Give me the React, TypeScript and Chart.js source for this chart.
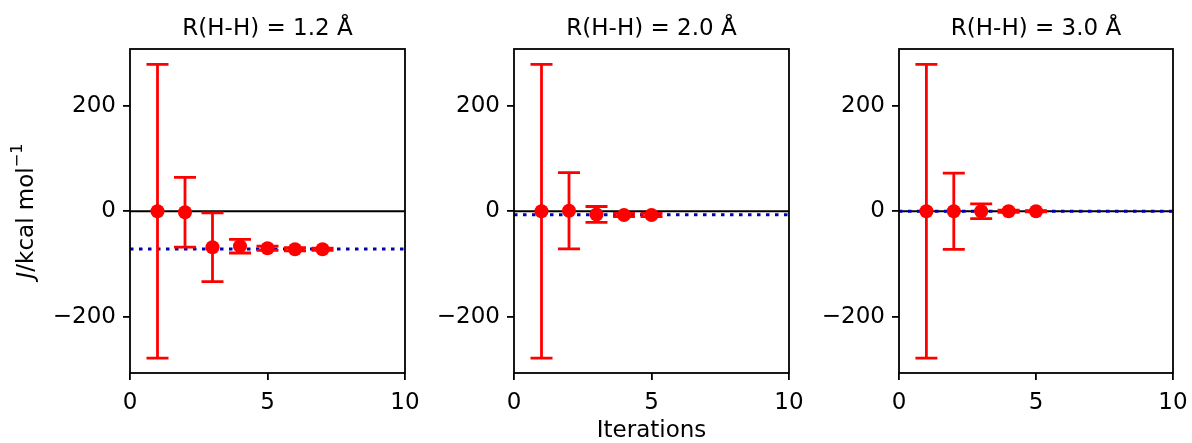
import React, { useEffect, useRef } from 'react';
import { Chart, registerables } from 'chart.js';
Chart.register(...registerables);

// ---- data ----
const panelTitles = ['R(H-H) = 1.2 Å', 'R(H-H) = 2.0 Å', 'R(H-H) = 3.0 Å'];
const iter12 = [1, 2, 3, 4, 5, 6, 7];
const J12 = [0, -2, -68, -66, -70, -72, -72];
const err12 = [278, 66, 65, 13, 4, 3, 2];
const iter20 = [1, 2, 3, 4, 5];
const J20 = [0, 1, -6, -7, -7];
const err20 = [278, 72, 15, 3, 3];
const iter30 = [1, 2, 3, 4, 5];
const J30 = [0, 0, 0, 0, 0];
const err30 = [278, 72, 14, 2, 1];
const refValues = [-71.5, -6.5, 0];
const xTickValues = [0, 5, 10];
const yTickValues = [-200, 0, 200];
const xRange = [0, 10];
const yRange = [-306, 307];

const FONT = 'DejaVu Sans';
const TICK_SIZE = 23;
const TITLE_SIZE = 23;
const LABEL_SIZE = 23;

const panels = [
  { title: panelTitles[0], xs: iter12, ys: J12, errs: err12, ref: refValues[0], left: 0, width: 420, axisW: 130, padR: 15, yLabel: true, xLabel: false },
  { title: panelTitles[1], xs: iter20, ys: J20, errs: err20, ref: refValues[1], left: 420, width: 384, axisW: 94, padR: 15, yLabel: false, xLabel: true },
  { title: panelTitles[2], xs: iter30, ys: J30, errs: err30, ref: refValues[2], left: 804, width: 388, axisW: 95, padR: 19, yLabel: false, xLabel: false },
];

const fmt = (v: number) => (v < 0 ? '\u2212' + Math.abs(v) : String(v));

function Panel(p: any) {
  const ref = useRef<HTMLCanvasElement | null>(null);
  useEffect(() => {
    const canvas = ref.current!;
    const errorBars = {
      id: 'errorBars',
      beforeDatasetDraw(chart: any, args: any) {
        const ds = chart.data.datasets[args.index];
        if (!ds.errs) return;
        const ctx = chart.ctx;
        const xs = chart.scales.x;
        const ys = chart.scales.y;
        ctx.save();
        ctx.strokeStyle = '#ff0000';
        ctx.lineWidth = 2.8;
        ds.data.forEach((pt: any, i: number) => {
          const e = ds.errs[i];
          const x = xs.getPixelForValue(pt.x);
          const y1 = ys.getPixelForValue(pt.y + e);
          const y2 = ys.getPixelForValue(pt.y - e);
          ctx.beginPath();
          ctx.moveTo(x, y1);
          ctx.lineTo(x, y2);
          ctx.moveTo(x - 11, y1);
          ctx.lineTo(x + 11, y1);
          ctx.moveTo(x - 11, y2);
          ctx.lineTo(x + 11, y2);
          ctx.stroke();
        });
        ctx.restore();
      },
    };
    const decor = {
      id: 'decor',
      afterDraw(chart: any) {
        const ctx = chart.ctx;
        const a = chart.chartArea;
        ctx.save();
        ctx.strokeStyle = '#000';
        ctx.lineWidth = 1.8;
        ctx.strokeRect(a.left, a.top, a.right - a.left, a.bottom - a.top);
        ctx.fillStyle = '#000';
        ctx.textAlign = 'center';
        ctx.textBaseline = 'middle';
        ctx.font = `${TITLE_SIZE}px "${FONT}"`;
        ctx.fillText(p.title, (a.left + a.right) / 2, 29);
        if (p.xLabel) {
          ctx.font = `${LABEL_SIZE}px "${FONT}"`;
          ctx.fillText('Iterations', (a.left + a.right) / 2, 431);
        }
        if (p.yLabel) {
          ctx.translate(27, (a.top + a.bottom) / 2);
          ctx.rotate(-Math.PI / 2);
          const partJ = 'J';
          const partRest = '/kcal mol';
          const sup = '\u22121';
          ctx.font = `italic ${LABEL_SIZE}px "${FONT}"`;
          const wJ = ctx.measureText(partJ).width;
          ctx.font = `${LABEL_SIZE}px "${FONT}"`;
          const wR = ctx.measureText(partRest).width;
          ctx.font = `${LABEL_SIZE * 0.7}px "${FONT}"`;
          const wS = ctx.measureText(sup).width;
          const total = wJ + wR + wS;
          let x = -total / 2;
          ctx.textAlign = 'left';
          ctx.font = `italic ${LABEL_SIZE}px "${FONT}"`;
          ctx.fillText(partJ, x, 0);
          x += wJ;
          ctx.font = `${LABEL_SIZE}px "${FONT}"`;
          ctx.fillText(partRest, x, 0);
          x += wR;
          ctx.font = `${LABEL_SIZE * 0.7}px "${FONT}"`;
          ctx.fillText(sup, x, -9);
        }
        ctx.restore();
      },
    };
    const chart = new Chart(canvas, {
      type: 'scatter',
      data: {
        datasets: [
          {
            type: 'line',
            data: [{ x: xRange[0], y: 0 }, { x: xRange[1], y: 0 }],
            borderColor: '#000000',
            borderWidth: 2,
            pointRadius: 0,
            order: 4,
          },
          {
            type: 'line',
            data: [{ x: xRange[0], y: p.ref }, { x: xRange[1], y: p.ref }],
            borderColor: '#0000b4',
            borderWidth: 3,
            borderDash: [3.5, 5.5],
            pointRadius: 0,
            order: 3,
          },
          {
            data: p.xs.map((x: number, i: number) => ({ x, y: p.ys[i] })),
            errs: p.errs,
            backgroundColor: '#ff0000',
            borderWidth: 0,
            pointRadius: 7,
            showLine: false,
            order: 1,
          } as any,
        ],
      },
      options: {
        responsive: false,
        animation: false,
        events: [],
        layout: { padding: { top: 49, right: p.padR, left: 0, bottom: 0 } },
        plugins: { legend: { display: false }, tooltip: { enabled: false }, title: { display: false } },
        scales: {
          x: {
            type: 'linear',
            min: xRange[0],
            max: xRange[1],
            afterFit: (s: any) => { s.height = 70; s.paddingLeft = 0; s.paddingRight = 0; },
            afterBuildTicks: (s: any) => { s.ticks = xTickValues.map((v) => ({ value: v })); },
            grid: { display: true, drawOnChartArea: false, drawTicks: true, tickLength: 7, color: '#000', lineWidth: 1.8 },
            border: { display: false },
            ticks: { color: '#000', font: { family: FONT, size: TICK_SIZE }, padding: 9, maxRotation: 0, callback: (v: any) => fmt(Number(v)) },
          },
          y: {
            type: 'linear',
            min: yRange[0],
            max: yRange[1],
            afterFit: (s: any) => { s.width = p.axisW; s.paddingTop = 0; s.paddingBottom = 0; },
            afterBuildTicks: (s: any) => { s.ticks = yTickValues.map((v) => ({ value: v })); },
            grid: { display: true, drawOnChartArea: false, drawTicks: true, tickLength: 7, color: '#000', lineWidth: 1.8 },
            border: { display: false },
            ticks: { color: '#000', font: { family: FONT, size: TICK_SIZE }, padding: 7, callback: (v: any) => fmt(Number(v)) },
          },
        },
      },
      plugins: [errorBars, decor],
    } as any);
    return () => chart.destroy();
  }, []);
  return (
    <canvas
      ref={ref}
      width={p.width}
      height={443}
      style={{ position: 'absolute', left: p.left, top: 0, width: p.width, height: 443 }}
    />
  );
}

export default function App() {
  return (
    <div style={{ position: 'fixed', left: 0, top: 0, width: 1192, height: 443, background: '#fff' }}>
      {panels.map((p, i) => (
        <Panel key={i} {...p} />
      ))}
    </div>
  );
}
